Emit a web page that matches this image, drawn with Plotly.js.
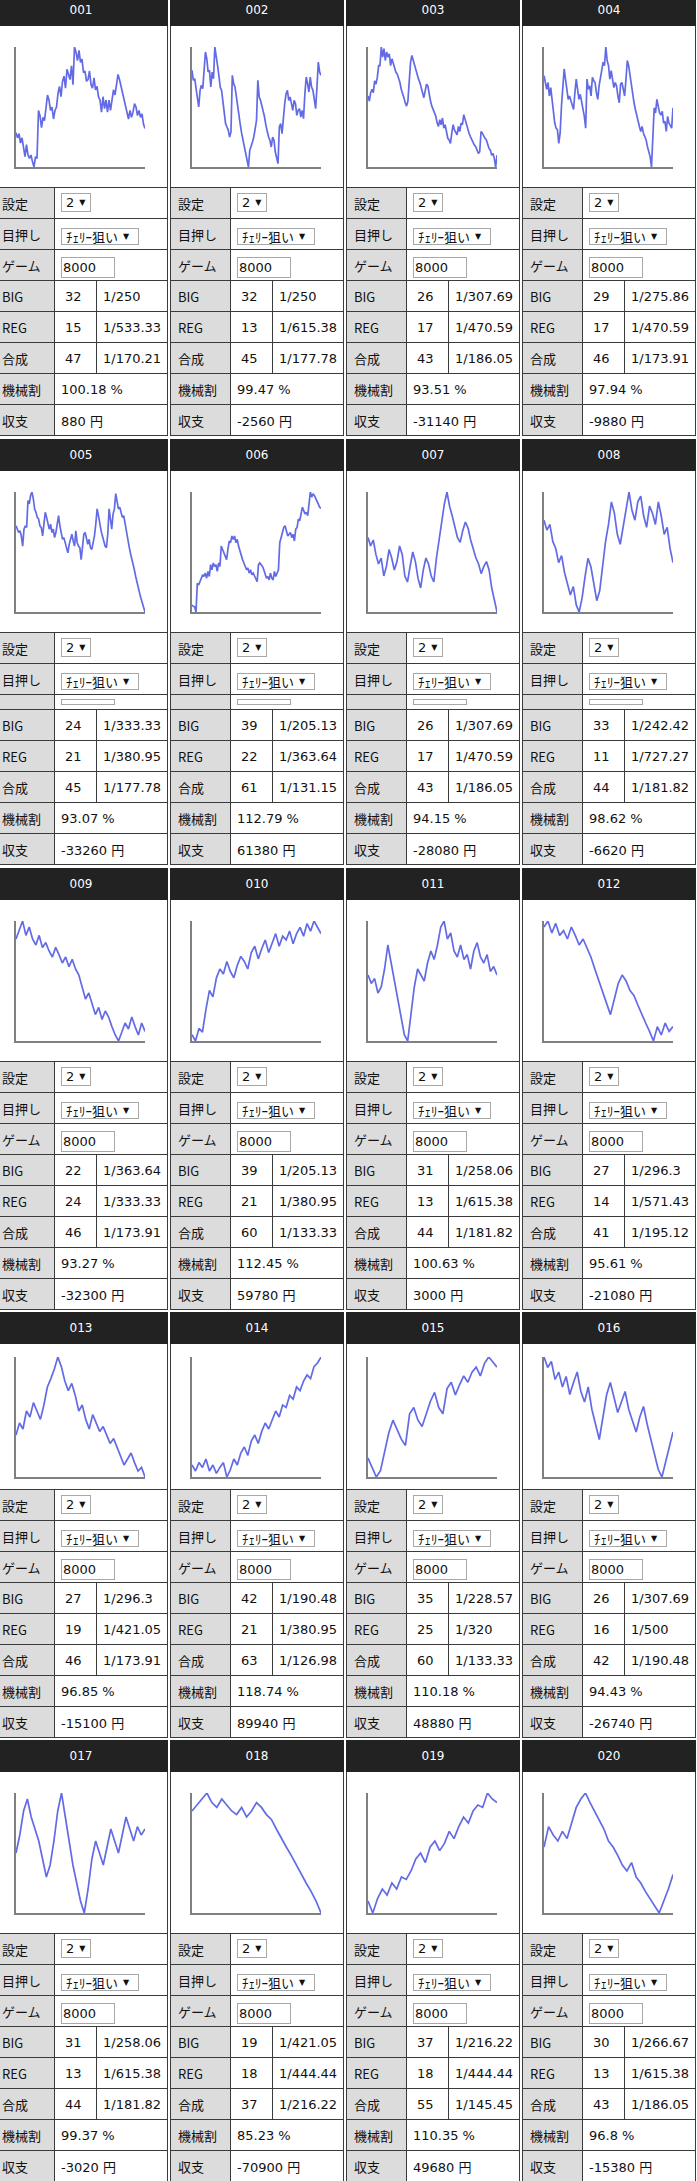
<!DOCTYPE html>
<html><head><meta charset="utf-8">
<script src="https://cdn.plot.ly/plotly-3.0.1.min.js"></script>
<style>
html,body{margin:0;padding:0;background:#fff;overflow:hidden;width:697px;height:2181px;}
#page{position:absolute;left:0;top:0;width:697px;height:2181px;overflow:hidden;}
.panel{position:absolute;width:174px;background:#3a3a3a;}
.cell{position:absolute;background:#fff;font-family:"DejaVu Sans","Noto Sans CJK JP",sans-serif;font-size:13px;color:#111;display:flex;align-items:center;white-space:nowrap;box-sizing:border-box;overflow:hidden;}
.lab{background:#dcdcdc;padding-left:7px;font-family:"Noto Sans CJK JP","DejaVu Sans",sans-serif;}
.hdr{background:#222;color:#fff;justify-content:center;font-size:12px;}
.num{padding-left:10px;}
.rat{padding-left:6px;}
.val{padding-left:6px;}
.box{position:absolute;border:1px solid #a8a8a8;background:#fff;box-sizing:border-box;font-family:"DejaVu Sans","Noto Sans CJK JP",sans-serif;font-size:13px;color:#111;display:flex;align-items:center;white-space:nowrap;}
.tri{font-size:8px;margin-left:5px;}
</style>
</head><body><div id="page"></div>
<script>
// ---- data ----
const ids = ["001","002","003","004","005","006","007","008","009","010","011","012","013","014","015","016","017","018","019","020"];
const labels = ["設定","目押し","ゲーム","BIG","REG","合成","機械割","収支"];
const settingVal = "2";
const aimVal = "ﾁｪﾘｰ狙い";
const games = ["8000","8000","8000","8000","","","","","8000","8000","8000","8000","8000","8000","8000","8000","8000","8000","8000","8000"];
const bigCount = [32,32,26,29,24,39,26,33,22,39,31,27,27,42,35,26,31,19,37,30];
const bigRate = ["1/250","1/250","1/307.69","1/275.86","1/333.33","1/205.13","1/307.69","1/242.42","1/363.64","1/205.13","1/258.06","1/296.3","1/296.3","1/190.48","1/228.57","1/307.69","1/258.06","1/421.05","1/216.22","1/266.67"];
const regCount = [15,13,17,17,21,22,17,11,24,21,13,14,19,21,25,16,13,18,18,13];
const regRate = ["1/533.33","1/615.38","1/470.59","1/470.59","1/380.95","1/363.64","1/470.59","1/727.27","1/333.33","1/380.95","1/615.38","1/571.43","1/421.05","1/380.95","1/320","1/500","1/615.38","1/444.44","1/444.44","1/615.38"];
const totalCount = [47,45,43,46,45,61,43,44,46,60,44,41,46,63,60,42,44,37,55,43];
const totalRate = ["1/170.21","1/177.78","1/186.05","1/173.91","1/177.78","1/131.15","1/186.05","1/181.82","1/173.91","1/133.33","1/181.82","1/195.12","1/173.91","1/126.98","1/133.33","1/190.48","1/181.82","1/216.22","1/145.45","1/186.05"];
const payout = ["100.18","99.47","93.51","97.94","93.07","112.79","94.15","98.62","93.27","112.45","100.63","95.61","96.85","118.74","110.18","94.43","99.37","85.23","110.35","96.8"];
const profit = [880,-2560,-31140,-9880,-33260,61380,-28080,-6620,-32300,59780,3000,-21080,-15100,89940,48880,-26740,-3020,-70900,49680,-15380];

// coin-difference curves (relative heights)
const s001 = [105,90,102,75,90,60,35,70,40,30,40,20,5,35,30,170,155,120,150,140,180,215,200,170,180,145,170,180,220,240,210,255,270,235,290,270,260,300,245,355,340,315,345,310,320,280,285,255,260,285,245,235,265,230,240,210,200,165,210,175,200,165,200,170,205,230,215,245,275,260,240,225,210,185,170,145,170,150,165,190,180,155,170,150,160,130,117];
const s002 = [290,260,265,235,200,180,230,245,235,300,345,325,285,290,240,285,265,360,325,305,275,240,230,200,160,130,120,110,90,105,275,250,240,210,170,150,125,100,80,60,40,30,0,50,60,75,90,120,140,260,210,200,185,170,150,125,105,90,80,60,90,80,45,30,10,120,130,100,155,190,220,230,200,210,190,170,200,190,155,170,175,150,170,145,220,270,250,225,270,240,230,200,175,240,315,285,275];
const s003 = [210,195,220,230,220,255,245,265,300,300,355,325,350,315,340,325,335,300,320,305,290,280,275,265,250,230,220,205,190,180,195,270,310,330,315,305,285,275,260,250,235,225,205,225,245,240,210,195,180,170,155,150,130,120,140,125,145,115,125,100,85,80,70,100,125,110,100,95,120,105,130,125,155,140,130,115,100,90,80,75,65,60,50,40,45,105,100,90,85,80,65,55,50,35,40,25,0,35];
const s004 = [270,245,230,250,210,235,195,165,130,115,110,70,100,180,235,290,260,220,200,210,195,180,170,220,260,230,200,215,195,180,150,115,260,230,240,210,265,255,250,220,200,240,265,285,310,300,355,315,300,260,285,260,235,250,240,210,190,245,250,230,210,260,315,300,270,235,215,190,170,150,140,120,105,120,100,90,80,60,45,30,0,120,175,160,200,180,160,155,165,130,135,105,150,130,120,115,175];
const s005 = [255,245,235,240,225,195,245,255,250,330,320,345,355,335,305,295,280,275,255,250,225,260,295,280,265,245,260,235,245,220,235,265,285,255,235,215,220,205,195,175,200,215,230,210,195,240,205,195,190,155,205,230,235,220,200,215,190,185,205,225,260,305,285,255,240,225,210,195,190,230,305,275,245,290,305,350,330,305,310,290,280,285,260,235,215,195,175,160,145,125,105,85,70,55,40,25,10,0];
const s006 = [20,17,15,0,85,80,90,95,110,105,115,100,120,105,140,125,145,135,140,120,145,135,195,185,175,165,155,185,210,205,225,215,225,205,215,195,180,170,155,145,135,125,130,115,125,110,115,105,100,90,140,145,140,135,125,115,100,105,95,115,100,95,120,105,115,125,205,220,235,250,255,235,225,230,235,220,230,210,245,250,275,270,290,310,300,290,295,285,320,355,340,350,345,335,325,320,310,307];
const s007 = [62,55,60,48,40,45,30,38,52,45,35,42,55,48,30,25,38,50,42,28,20,35,45,40,30,25,45,60,75,90,100,88,80,70,62,58,68,75,70,60,52,45,40,32,38,42,35,20,10,0];
const s008 = [75,68,72,60,55,45,50,38,30,22,28,15,10,20,35,48,42,30,18,25,45,60,72,88,80,65,58,70,85,95,82,75,88,92,78,70,85,80,72,88,78,65,70,55,45];
const s009 = [85,92,100,88,95,85,80,88,78,82,75,70,78,72,65,70,62,68,60,55,45,35,40,30,22,28,18,25,20,12,5,0,8,15,10,20,12,5,15,8];
const s010 = [10,5,15,12,30,45,40,55,62,58,68,60,55,65,72,68,62,75,80,70,78,85,75,82,90,80,88,85,92,82,90,95,88,98,92,100,95,90];
const s011 = [55,48,52,40,45,60,80,65,50,35,20,5,0,25,45,60,55,50,65,75,68,80,95,100,85,90,75,70,80,68,72,60,75,82,70,65,72,58,62,55];
const s012 = [95,100,90,98,88,92,85,95,88,80,85,78,70,60,50,40,30,22,35,48,55,50,42,38,30,22,15,8,0,12,5,15,8,12];
const s013 = [35,45,40,55,50,62,55,48,60,75,82,90,100,92,80,72,78,68,55,60,48,40,52,45,38,42,35,28,32,25,18,10,15,20,12,5,8,0];
const s014 = [10,5,12,8,15,5,10,3,8,12,0,6,15,10,20,25,18,30,35,28,38,45,40,48,55,50,60,58,68,65,75,72,80,85,82,92,95,100];
const s015 = [20,12,5,10,25,40,50,42,35,30,55,60,50,45,55,65,72,60,55,75,80,70,78,85,80,88,92,85,95,100,96,92];
const s016 = [85,78,82,70,75,65,72,60,68,75,62,55,65,50,40,30,45,60,68,58,48,55,62,50,42,35,45,52,40,30,20,10,5,15,25,35];
const s017 = [50,65,85,95,80,70,60,45,30,40,60,85,100,80,60,40,25,10,0,20,45,60,50,40,55,70,60,50,65,80,70,60,72,65,70];
const s018 = [85,90,95,100,92,88,95,90,85,82,88,80,85,92,88,82,78,70,62,55,48,40,32,25,18,10,0];
const s019 = [10,0,12,20,15,25,20,30,28,35,45,50,42,55,60,52,58,68,62,72,80,75,85,90,88,100,95,92];
const s020 = [55,72,65,60,68,62,75,88,95,100,92,85,78,70,60,55,48,40,35,42,30,25,18,12,5,0,10,20,32];
const series = [s001,s002,s003,s004,s005,s006,s007,s008,s009,s010,s011,s012,s013,s014,s015,s016,s017,s018,s019,s020];

// ---- layout ----
const colLeft = [-6,170,346,522];
const rowTop = [-6,439,868,1312,1740];
const chartH = [161,161,161,145,161];
const plotTop = [21,21,21,13,21];

const page = document.getElementById('page');
function el(parent, cls, x, y, w, h, text){
  const d=document.createElement('div'); d.className=cls?('cell '+cls):'cell';
  d.style.left=x+'px'; d.style.top=y+'px'; d.style.width=w+'px'; d.style.height=h+'px';
  if(text!=null) d.textContent=text;
  parent.appendChild(d); return d;
}
function box(parent, x, y, w, h, text, tri){
  const b=document.createElement('div'); b.className='box';
  b.style.left=x+'px'; b.style.top=y+'px'; b.style.width=w+'px'; b.style.height=h+'px';
  if(text!=null){
    const s=document.createElement('span'); s.textContent=text; s.style.marginLeft=(tri?4:1)+'px'; b.appendChild(s);
    if(tri){ const t=document.createElement('span'); t.className='tri'; t.textContent='▼'; b.appendChild(t); }
  }
  parent.appendChild(b); return b;
}

const charts=[];
ids.forEach((id,i)=>{
  const c=i%4, r=Math.floor(i/4);
  const p=document.createElement('div'); p.className='panel';
  p.style.left=colLeft[c]+'px'; p.style.top=rowTop[r]+'px';
  page.appendChild(p);
  el(p,'hdr',0,0,174,32,id);
  const ch=el(p,'',1,32,172,chartH[r]);
  const gd=document.createElement('div'); gd.style.position='absolute'; gd.style.left='0'; gd.style.top='0';
  ch.appendChild(gd); charts.push({gd, h:chartH[r], t:plotTop[r], data:series[i]});
  let y=32+chartH[r]+1;
  el(p,'lab',1,y,59,30,labels[0]); let v=el(p,'',61,y,112,30); box(v,6,5,30,19,settingVal,true); y+=31;
  el(p,'lab',1,y,59,30,labels[1]); v=el(p,'',61,y,112,30); box(v,6,9,78,17,aimVal,true); y+=31;
  if(games[i]!==""){
    el(p,'lab',1,y,59,30,labels[2]); v=el(p,'',61,y,112,30); box(v,6,7,54,21,games[i],false); y+=31;
  } else {
    el(p,'lab',1,y,59,14,''); v=el(p,'',61,y,112,14); box(v,6,4,54,6,null,false); y+=15;
  }
  const trip=[[labels[3],bigCount[i],bigRate[i]],[labels[4],regCount[i],regRate[i]],[labels[5],totalCount[i],totalRate[i]]];
  trip.forEach(t=>{
    el(p,'lab',1,y,59,30,t[0]); el(p,'num',61,y,41,30,String(t[1])); el(p,'rat',103,y,70,30,t[2]); y+=31;
  });
  el(p,'lab',1,y,59,30,labels[6]); el(p,'val',61,y,112,30,payout[i]+' %'); y+=31;
  el(p,'lab',1,y,59,30,labels[7]); el(p,'val',61,y,112,30,profit[i]+' 円'); y+=31;
  p.style.height=y+'px';
});

charts.forEach(o=>{
  const d=o.data; let mn=Math.min(...d), mx=Math.max(...d);
  const ax={showline:true,linecolor:'#808080',linewidth:2,showgrid:false,zeroline:false,showticklabels:false,ticks:'',fixedrange:true};
  Plotly.newPlot(o.gd,[{y:d,type:'scatter',mode:'lines',line:{color:'rgba(45,58,220,0.75)',width:1.7},hoverinfo:'skip'}],
    {width:172,height:o.h,margin:{l:21,r:22,t:o.t,b:o.h-o.t-120,pad:0},paper_bgcolor:'#fff',plot_bgcolor:'#fff',showlegend:false,
     xaxis:Object.assign({range:[0,d.length-1]},ax),yaxis:Object.assign({range:[mn,mx]},ax)},
    {staticPlot:true,displayModeBar:false});
});
</script></body></html>
